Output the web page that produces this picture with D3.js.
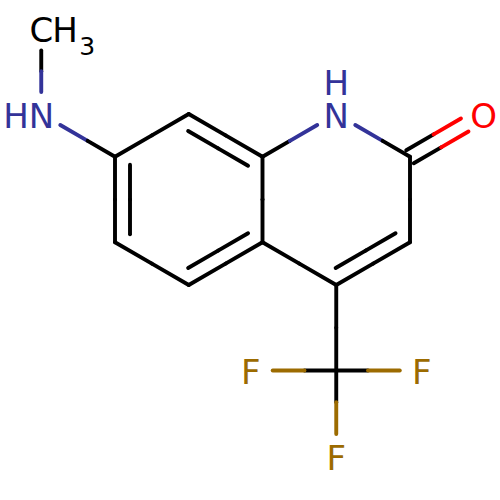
<!DOCTYPE html>
<html>
<head>
<meta charset="utf-8">
<script src="https://cdn.jsdelivr.net/npm/d3@7/dist/d3.min.js"></script>
<style>
html,body{margin:0;padding:0;background:#fff}
svg{display:block}
text{font-family:"DejaVu Sans",sans-serif}
</style>
</head>
<body>
<div id="chart"></div>
<script>
// Atoms on the drawing grid (column, row)
const atomNames = ["CH3","NH","C7","C8","C8a","N1","C2","O","C3","C4","C4a","C5","C6","CF3","F1","F2","F3"];
const atomElements = ["C","N","C","C","C","N","C","O","C","C","C","C","C","C","F","F","F"];
const atomCols = [-1,-1,0,1,2,3,4,5,4,3,2,1,0,3,1.84,4.16,3];
const atomRows = [-2,0,1,0,1,0,1,0,3,4,3,4,3,6,6,6,8];
// Bonds: endpoints, order, side of the inner line
const bondFrom = ["CH3","NH","C7","C8","C8a","N1","C2","C2","C3","C4","C4a","C5","C6","C4","CF3","CF3","CF3","C8a"];
const bondTo   = ["NH","C7","C8","C8a","N1","C2","O","C3","C4","C4a","C5","C6","C7","CF3","F1","F2","F3","C4a"];
const bondOrder= [1,1,1,2,1,1,2,1,2,1,2,1,2,1,1,1,1,1];
const bondRing = ["","","","R1","","","","","R2","","R1","","R1","","","","",""];
const ringCols = {R1:1,R2:3};
const ringRows = {R1:2,R2:2};
// Atom labels: text, anchor atom, anchor side
const labelTexts = ["C","H","HN","H","N","O","F","F","F"];
const labelAtoms = ["CH3","CH3","NH","N1","N1","O","F1","F2","F3"];
const labelAnchor= ["middle","start","end","middle","middle","middle","middle","middle","middle"];
const labelElems = ["C","C","N","N","N","O","F","F","F"];
const labelDx = [0,11,13,0,0,0,0,0,0];
const labelDy = [0,0,0,-32.5,0,0,0,0,0];
const subTexts = ["3"];
const subAtoms = ["CH3"];

const colors = {C:"#000000",N:"#333399",O:"#ff0000",F:"#9c6b00"};
const width = 500, height = 500;
const x = d3.scaleLinear().domain([0,4]).range([115,410]);
const y = d3.scaleLinear().domain([0,8]).range([114,456]);
const strokeW = 3.9, labelGap = 22, innerGap = 15, innerTrim = 8, carbonylOffset = 7.5;

const atoms = new Map(atomNames.map((n,i)=>[n,{name:n,el:atomElements[i],px:x(atomCols[i]),py:y(atomRows[i])}]));
const labelled = a => a.el !== "C" || a.name === "CH3";

const svg = d3.select("#chart").append("svg").attr("width",width).attr("height",height);
const segments = [];
function addLine(p,q,elP,elQ){
  const mx=(p[0]+q[0])/2,my=(p[1]+q[1])/2;
  segments.push({x1:p[0],y1:p[1],x2:mx,y2:my,c:colors[elP]});
  segments.push({x1:mx,y1:my,x2:q[0],y2:q[1],c:colors[elQ]});
}
bondFrom.forEach((f,i)=>{
  const a=atoms.get(f),b=atoms.get(bondTo[i]);
  const dx=b.px-a.px,dy=b.py-a.py,len=Math.hypot(dx,dy),ux=dx/len,uy=dy/len;
  const ta=labelled(a)?labelGap:0,tb=labelled(b)?labelGap:0;
  const p=[a.px+ux*ta,a.py+uy*ta],q=[b.px-ux*tb,b.py-uy*tb];
  if(bondOrder[i]===2 && !bondRing[i]){
    const nx=-uy*carbonylOffset,ny=ux*carbonylOffset;
    addLine([p[0]+nx,p[1]+ny],[q[0]+nx,q[1]+ny],a.el,b.el);
    addLine([p[0]-nx,p[1]-ny],[q[0]-nx,q[1]-ny],a.el,b.el);
    return;
  }
  addLine(p,q,a.el,b.el);
  if(bondOrder[i]===2){
    const cx=x(ringCols[bondRing[i]]),cy=y(ringRows[bondRing[i]]);
    let nx=-uy,ny=ux;
    if(nx*(cx-a.px)+ny*(cy-a.py)<0){nx=-nx;ny=-ny;}
    addLine([a.px+nx*innerGap+ux*innerTrim,a.py+ny*innerGap+uy*innerTrim],
            [b.px+nx*innerGap-ux*innerTrim,b.py+ny*innerGap-uy*innerTrim],a.el,b.el);
  }
});
svg.append("g").selectAll("line").data(segments).join("line")
  .attr("x1",d=>d.x1).attr("y1",d=>d.y1).attr("x2",d=>d.x2).attr("y2",d=>d.y2)
  .attr("stroke",d=>d.c).attr("stroke-width",strokeW).attr("stroke-linecap","round");

svg.append("g").selectAll("text").data(labelTexts).join("text")
  .text(d=>d)
  .attr("x",(d,i)=>atoms.get(labelAtoms[i]).px+labelDx[i])
  .attr("y",(d,i)=>atoms.get(labelAtoms[i]).py+13.5+labelDy[i])
  .attr("text-anchor",(d,i)=>labelAnchor[i])
  .attr("font-size",34)
  .attr("fill",(d,i)=>colors[labelElems[i]]);
svg.append("g").selectAll("text").data(subTexts).join("text")
  .text(d=>d)
  .attr("x",(d,i)=>atoms.get(subAtoms[i]).px+38)
  .attr("y",(d,i)=>atoms.get(subAtoms[i]).py+26)
  .attr("font-size",25)
  .attr("fill",colors.C);
</script>
</body>
</html>
